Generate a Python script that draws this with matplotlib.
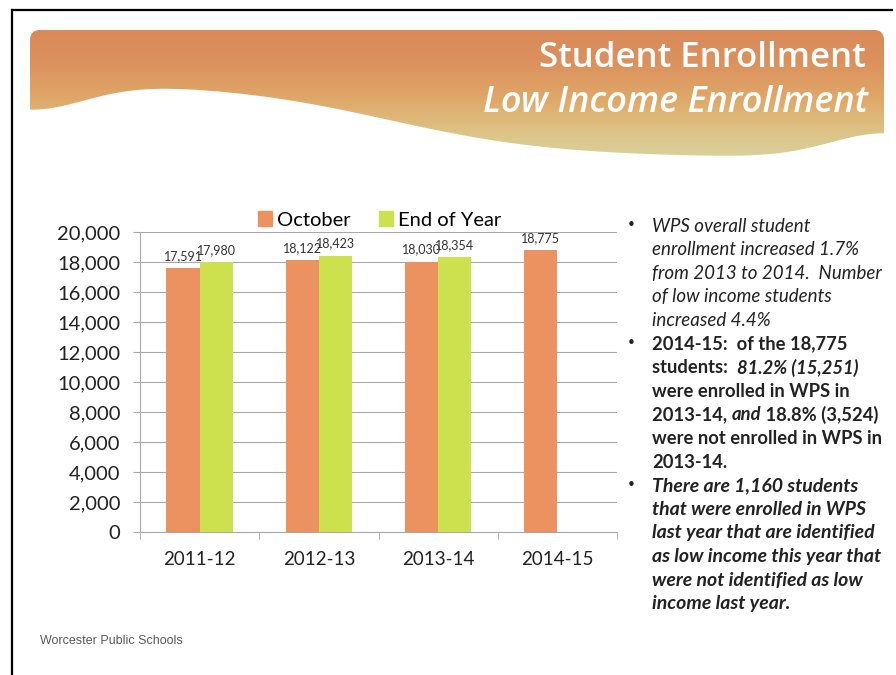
#!/usr/bin/env python
"""Student enrollment slide: October vs end-of-year counts by school year."""
import numpy as np
import matplotlib
matplotlib.use("Agg")
import matplotlib.pyplot as plt
from matplotlib.colors import LinearSegmentedColormap
from matplotlib.patches import FancyBboxPatch, Rectangle

CATEGORIES = ["2011-12", "2012-13", "2013-14", "2014-15"]
OCTOBER = [17591, 18122, 18030, 18775]
END_OF_YEAR = [17980, 18423, 18354, np.nan]
Y_TICKS = [0, 2000, 4000, 6000, 8000, 10000, 12000, 14000, 16000, 18000, 20000]

ORANGE = "#EC9160"
GREEN = "#CDE04E"
GRID = "#A8A8A8"
TXT = "#222222"
FONT = "Lato"

W, H = 896, 675
fig = plt.figure(figsize=(W / 100, H / 100), dpi=100)


def fx(px):
    return px / W


def fy(py):
    return 1 - py / H


# slide frame and header banner (decoration, drawn in pixel space)
bg = fig.add_axes([0, 0, 1, 1])
bg.set_xlim(0, W)
bg.set_ylim(H, 0)
bg.axis("off")
bg.plot([12, 12], [10, H], color="black", lw=1.6)
bg.plot([12, 892], [10, 10], color="black", lw=1.6)

xs = np.linspace(24, 890, 400)
t = np.clip((xs - 30) / (884 - 30), 0, 1)
# lower edge of the banner: white bulge on the left, sagging towards the right
wave = 82 + 26 * np.exp(-(t / 0.09) ** 2) + 75 / (1 + np.exp(-(t - 0.42) / 0.1)) \
    - 24 * np.exp(-((t - 1.0) / 0.09) ** 2)
grad = np.linspace(0, 1, 256).reshape(-1, 1)
cmap = LinearSegmentedColormap.from_list(
    "band", ["#D98A58", "#DC925E", "#DFA868", "#DDC487", "#D8D6A6"])
im = bg.imshow(grad, extent=[30, 884, 30, 168], origin="lower", cmap=cmap,
               aspect="auto", zorder=1)
clip = FancyBboxPatch((30, 30), 854, 160, boxstyle="round,pad=0,rounding_size=10",
                      transform=bg.transData, facecolor="none", edgecolor="none")
bg.add_patch(clip)
im.set_clip_path(clip)
bg.fill_between(xs, wave, 200, color="white", zorder=2, lw=0)
bg.text(866, 58, "Student Enrollment", color="white", fontsize=25, family="Open Sans",
        weight=600, ha="right", va="center", zorder=3)
bg.text(868, 103, "Low Income Enrollment", color="white", fontsize=26, family="Open Sans",
        weight=600, style="italic", ha="right", va="center", zorder=3)
bg.text(40, 641, "Worcester Public Schools", color="#5a5a5a", fontsize=9,
        family="Liberation Sans", ha="left", va="center")

# chart
ax = fig.add_axes([fx(140), fy(532), fx(617) - fx(140), fy(232) - fy(532)])
x = np.arange(len(CATEGORIES))
bw = 0.278
ax.bar(x - bw / 2, OCTOBER, width=bw, color=ORANGE, zorder=3, label="October")
ax.bar(x + bw / 2, END_OF_YEAR, width=bw, color=GREEN, zorder=3, label="End of Year")
for xi, v in zip(x, OCTOBER):
    ax.text(xi - bw / 2, v + 400, f"{v:,}", ha="center", va="bottom", fontsize=9,
            family=FONT, color="#333333")
for xi, v in zip(x, END_OF_YEAR):
    if not np.isnan(v):
        ax.text(xi + bw / 2, v + 400, f"{int(v):,}", ha="center", va="bottom", fontsize=9,
                family=FONT, color="#333333")

ax.set_xlim(-0.5, len(CATEGORIES) - 0.5)
ax.set_ylim(0, 20000)
ax.set_yticks(Y_TICKS)
ax.set_yticklabels([f"{v:,}" for v in Y_TICKS], family=FONT, fontsize=14.5, color=TXT)
ax.set_xticks(x)
ax.set_xticklabels(CATEGORIES, family=FONT, fontsize=13.5, color=TXT)
ax.set_xticks(np.arange(len(CATEGORIES) + 1) - 0.5, minor=True)
ax.tick_params(axis="x", which="major", length=0, pad=14)
ax.tick_params(axis="x", which="minor", length=5, color=GRID, direction="out")
ax.tick_params(axis="y", length=5, color=GRID, pad=9)
ax.yaxis.grid(True, color=GRID, lw=0.8, zorder=0)
for s in ("top", "right"):
    ax.spines[s].set_visible(False)
for s in ("left", "bottom"):
    ax.spines[s].set_color(GRID)
    ax.spines[s].set_linewidth(0.8)

handles = [Rectangle((0, 0), 1, 1, color=ORANGE), Rectangle((0, 0), 1, 1, color=GREEN)]
fig.legend(handles, ["October", "End of Year"], loc="center",
           bbox_to_anchor=(fx(380), fy(220)), ncol=2, frameon=False,
           prop={"family": FONT, "size": 14.5}, handlelength=0.7, handleheight=0.7,
           handletextpad=0.25, columnspacing=1.4)

# bullet text on the right
LH = 23.6
bullets = [
    (226, 13.5, [[("WPS overall student", "italic", "normal")],
                 [("enrollment increased 1.7%", "italic", "normal")],
                 [("from 2013 to 2014.  Number", "italic", "normal")],
                 [("of low income students", "italic", "normal")],
                 [("increased 4.4%", "italic", "normal")]]),
    (226 + 5 * LH, 13.2, [[("2014-15:  of the 18,775", "normal", "bold")],
                          [("students:  ", "normal", "bold"), ("81.2% (15,251)", "italic", "bold")],
                          [("were enrolled in WPS in", "normal", "bold")],
                          [("2013-14, ", "normal", "bold"), ("and", "italic", "bold"),
                           (" 18.8% (3,524)", "normal", "bold")],
                          [("were not enrolled in WPS in", "normal", "bold")],
                          [("2013-14.", "normal", "bold")]]),
    (226 + 11 * LH, 14.0, [[("There are 1,160 students", "italic", "bold")],
                           [("that were enrolled in WPS", "italic", "bold")],
                           [("last year that are identified", "italic", "bold")],
                           [("as low income this year that", "italic", "bold")],
                           [("were not identified as low", "italic", "bold")],
                           [("income last year.", "italic", "bold")]]),
]
renderer = fig.canvas.get_renderer()
for y0, size, lines in bullets:
    bg.text(627, y0, "\u2022", fontsize=11, family="DejaVu Sans", ha="left", va="center",
            color=TXT)
    for i, segs in enumerate(lines):
        xpos = 652
        for txt, style, weight in segs:
            tt = bg.text(xpos, y0 + i * LH, txt, fontsize=size, family=FONT, style=style,
                         weight=weight, ha="left", va="center", color=TXT)
            xpos += tt.get_window_extent(renderer=renderer).width

fig.savefig("out.png", dpi=100)
